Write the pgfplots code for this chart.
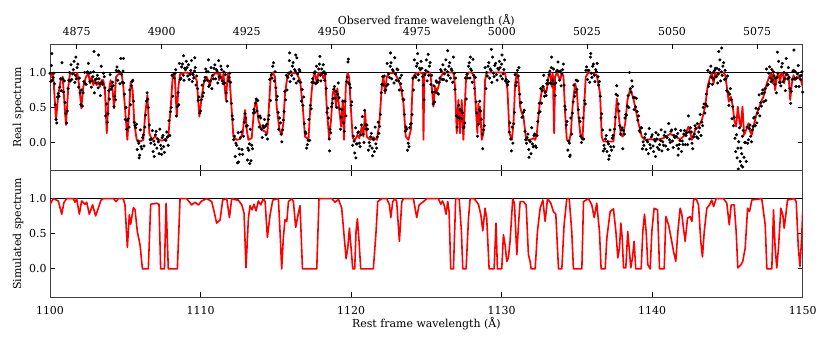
\documentclass[border=0pt]{standalone}
\usepackage{fontspec}
\setmainfont{DejaVu Serif}
\usepackage{pgfplots}
\usepackage{pgfplotstable}
\pgfplotsset{compat=1.18}

\pgfplotstableread{
x y
1100.00 0.915
1100.11 0.986
1100.22 0.938
1100.40 0.322
1100.55 0.678
1100.71 0.891
1100.84 0.938
1101.06 0.251
1101.22 0.796
1101.33 0.986
1101.55 1.0
1101.73 0.938
1101.82 0.995
1101.95 0.796
1102.08 0.488
1102.21 0.796
1102.39 0.938
1102.55 0.986
1102.66 0.844
1102.77 0.938
1102.88 0.82
1102.99 0.891
1103.10 0.82
1103.21 0.867
1103.32 0.796
1103.43 0.891
1103.54 0.891
1103.65 0.749
1103.77 0.133
1103.92 0.749
1104.03 0.891
1104.16 0.749
1104.25 0.488
1104.39 0.938
1104.54 0.976
1104.76 0.986
1104.87 0.796
1105.01 0.417
1105.14 0.038
1105.27 0.512
1105.36 0.867
1105.49 0.749
1105.60 0.275
1105.76 0.038
1105.98 0.014
1106.20 0.038
1106.33 0.417
1106.47 0.678
1106.60 0.133
1106.76 0.038
1106.98 0.085
1107.20 0.038
1107.42 0.028
1107.64 0.038
1107.86 0.085
1108.02 0.512
1108.15 0.938
1108.28 0.986
1108.42 0.37
1108.53 0.796
1108.64 0.976
1108.97 1.0
1109.41 0.986
1109.75 0.891
1109.92 0.37
1110.08 0.654
1110.23 0.867
1110.41 0.938
1110.63 0.82
1110.74 0.938
1110.96 0.986
1111.18 0.986
1111.23 0.891
1111.30 0.986
1111.45 0.867
1111.52 0.986
1111.69 0.607
1111.81 0.995
1111.92 0.938
1112.07 0.464
1112.18 0.085
1112.40 0.038
1112.62 0.047
1112.80 0.133
1112.96 0.464
1113.07 0.18
1113.18 0.038
1113.40 0.062
1113.55 0.464
1113.69 0.607
1113.84 0.322
1114.06 0.18
1114.29 0.156
1114.44 0.133
1114.57 0.607
1114.66 0.938
1114.80 1.0
1114.95 0.938
1115.06 0.512
1115.24 0.18
1115.39 0.109
1115.50 0.275
1115.61 0.701
1115.77 0.938
1115.95 1.0
1116.39 0.986
1116.61 0.891
1116.79 0.512
1116.94 0.085
1117.17 0.038
1117.28 0.464
1117.39 0.749
1117.50 0.938
1117.61 0.986
1117.72 0.844
1117.83 0.995
1118.05 0.986
1118.16 0.915
1118.27 0.986
1118.38 0.512
1118.54 0.062
1118.67 0.322
1118.78 0.701
1118.89 0.773
1119.00 0.512
1119.09 0.773
1119.22 0.464
1119.34 0.227
1119.45 0.607
1119.53 0.038
1119.65 0.796
1119.76 0.995
1119.87 0.938
1119.98 0.512
1120.11 0.062
1120.27 0.038
1120.42 0.109
1120.55 0.062
1120.71 0.227
1120.82 0.085
1120.93 0.441
1121.04 0.085
1121.26 0.038
1121.48 0.076
1121.71 0.038
1121.88 0.275
1122.04 0.796
1122.15 0.938
1122.26 0.701
1122.37 0.938
1122.59 0.995
1122.92 0.986
1123.15 0.891
1123.30 0.796
1123.48 0.559
1123.63 0.085
1123.81 0.038
1123.97 0.18
1124.10 0.891
1124.19 0.962
1124.36 0.995
1124.58 1.0
1124.76 0.986
1124.81 0.038
1124.87 0.986
1125.03 1.0
1125.25 1.0
1125.36 0.796
1125.47 0.512
1125.58 0.796
1125.69 0.725
1125.80 0.796
1125.96 0.938
1126.14 1.0
1126.80 1.0
1126.91 0.796
1127.02 0.133
1127.13 0.607
1127.24 0.133
1127.35 0.607
1127.46 0.038
1127.64 0.938
1127.80 1.0
1128.02 1.0
1128.17 0.938
1128.31 0.417
1128.39 0.133
1128.46 0.559
1128.53 0.275
1128.57 0.512
1128.68 0.038
1128.79 0.133
1128.90 0.891
1129.01 1.0
1130.23 1.0
1130.39 0.749
1130.52 0.133
1130.68 0.038
1130.79 0.275
1130.90 0.844
1131.01 0.986
1131.12 0.891
1131.23 0.512
1131.34 0.417
1131.45 0.37
1131.63 0.038
1131.89 0.038
1132.12 0.062
1132.23 0.038
1132.34 0.133
1132.51 0.512
1132.67 0.749
1132.78 0.796
1132.89 0.701
1133.00 0.749
1133.11 0.938
1133.22 1.0
1133.33 0.796
1133.40 0.986
1133.49 0.133
1133.55 0.938
1133.67 1.0
1133.89 0.891
1134.00 1.0
1134.11 0.938
1134.22 0.417
1134.33 0.038
1134.49 0.014
1134.60 0.133
1134.71 0.512
1134.88 0.844
1134.99 0.749
1135.11 0.37
1135.22 0.133
1135.37 0.038
1135.48 0.512
1135.59 0.938
1135.77 1.0
1136.10 0.986
1136.32 0.962
1136.54 0.701
1136.65 0.085
1136.77 0.014
1137.21 0.014
1137.43 0.014
1137.54 0.275
1137.65 0.63
1137.76 0.417
1137.92 0.109
1138.05 0.085
1138.21 0.275
1138.36 0.607
1138.54 0.758
1138.72 0.654
1138.87 0.512
1139.09 0.275
1139.31 0.085
1139.53 0.038
1139.87 0.047
1140.31 0.038
1140.75 0.062
1141.20 0.123
1141.53 0.085
1141.86 0.047
1142.19 0.109
1142.41 0.227
1142.52 0.156
1142.64 0.038
1142.86 0.18
1143.08 0.227
1143.30 0.322
1143.52 0.512
1143.68 0.796
1143.85 0.938
1143.96 0.986
1144.08 0.844
1144.19 1.0
1144.30 0.938
1144.41 1.0
1144.74 1.0
1144.85 0.962
1144.96 0.796
1145.09 0.583
1145.23 0.654
1145.36 0.512
1145.45 0.322
1145.58 0.227
1145.69 0.512
1145.80 0.299
1145.89 0.227
1146.00 0.512
1146.11 0.109
1146.29 0.204
1146.40 0.275
1146.51 0.156
1146.62 0.109
1146.78 0.275
1146.95 0.417
1147.13 0.512
1147.28 0.607
1147.39 0.654
1147.51 0.749
1147.62 0.844
1147.77 0.938
1147.91 0.986
1148.00 0.844
1148.06 0.986
1148.17 0.749
1148.28 0.938
1148.39 0.995
1148.50 0.844
1148.57 0.986
1148.68 0.986
1148.77 0.844
1148.88 0.986
1149.06 0.962
1149.17 0.607
1149.28 0.844
1149.39 0.962
1149.50 0.891
1149.61 0.938
1149.71 0.915
1149.82 0.938
1150.00 0.796
}\realmodel

\pgfplotstableread{
x y
1100.00 0.92
1100.22 1.0
1100.55 0.967
1100.78 0.778
1100.93 0.948
1101.11 1.0
1101.55 1.0
1101.66 0.948
1101.77 1.0
1101.95 0.778
1102.10 0.967
1102.33 0.92
1102.44 0.948
1102.61 0.778
1102.83 0.91
1103.03 0.755
1103.21 0.863
1103.39 0.98
1103.54 1.0
1104.21 1.0
1104.39 0.958
1104.54 1.0
1104.87 1.0
1104.98 0.91
1105.14 0.307
1105.27 0.769
1105.36 0.637
1105.54 0.873
1105.65 0.84
1105.80 0.533
1105.98 0.344
1106.14 0
1106.53 0
1106.69 0.92
1107.09 0.934
1107.24 0.92
1107.35 0
1107.60 0
1107.71 0.934
1107.86 0
1108.46 0
1108.64 1.0
1109.08 1.0
1109.41 0.91
1109.63 0.948
1109.86 0.91
1110.08 0.967
1110.41 1.0
1110.74 0.958
1110.90 0.816
1111.07 0.651
1111.30 0.698
1111.47 0.98
1111.74 1.0
1111.92 0.731
1112.07 1.0
1112.40 0.98
1112.51 0.98
1112.74 0.91
1112.89 0.792
1113.02 0.014
1113.18 0.722
1113.29 0.90
1113.42 0.84
1113.55 0.92
1113.69 0.825
1113.84 0.967
1114.00 0.91
1114.17 1.0
1114.29 0.958
1114.44 0.448
1114.62 0.769
1114.80 0.98
1115.17 1.0
1115.28 0.533
1115.39 0
1115.50 0.439
1115.61 0.698
1115.73 0.675
1115.84 0.958
1116.06 1.0
1116.17 0.958
1116.32 0.59
1116.50 0.792
1116.61 0.90
1116.77 0
1117.72 0
1117.87 1.0
1118.72 1.0
1118.94 0.948
1119.16 0.99
1119.38 0.863
1119.53 0.486
1119.67 0.146
1119.78 0.297
1119.89 0.58
1120.00 0.297
1120.11 0
1120.24 0
1120.33 0.533
1120.42 0.712
1120.53 0.392
1120.64 0
1121.48 0
1121.66 0.533
1121.77 0.958
1122.04 1.0
1122.37 1.0
1122.55 0.91
1122.64 0.731
1122.77 0.958
1122.92 1.0
1123.03 0.958
1123.21 0.392
1123.37 0.958
1123.48 1.0
1124.14 1.0
1124.36 0.731
1124.52 0.91
1124.81 0.958
1125.03 1.0
1125.80 1.0
1125.96 0.92
1126.07 0.967
1126.18 0.91
1126.31 0.778
1126.42 0.958
1126.51 0.816
1126.62 0
1126.80 0
1126.95 1.0
1127.18 1.0
1127.33 0.533
1127.42 0
1127.64 0
1127.80 0.722
1127.91 1.0
1128.17 1.0
1128.46 0.92
1128.62 0.769
1128.75 0.542
1128.90 0.863
1129.01 0.722
1129.17 0
1129.50 0
1129.63 0.651
1129.72 0
1130.01 0
1130.12 0.486
1130.23 0.344
1130.34 0.108
1130.45 0.156
1130.56 0.392
1130.74 1.0
1130.85 0.934
1131.01 0.203
1131.12 0.627
1131.23 0.958
1131.45 0.958
1131.63 0.91
1131.78 0.203
1131.89 0.108
1131.96 0
1132.23 0
1132.38 0.533
1132.56 0.863
1132.74 0.98
1132.89 0.675
1133.05 1.0
1133.27 0.934
1133.44 0.816
1133.60 0.778
1133.71 0.297
1133.78 0
1134.00 0
1134.15 0.627
1134.33 1.0
1134.49 1.0
1134.66 0.533
1134.77 0
1135.33 0
1135.44 0.958
1135.77 1.0
1135.99 0.91
1136.15 0.731
1136.32 0.934
1136.50 0.533
1136.61 0
1136.88 0
1136.99 0.439
1137.21 0.816
1137.43 0.854
1137.59 0.533
1137.72 0.156
1137.83 0.297
1137.92 0.651
1138.01 0.439
1138.10 0.014
1138.25 0.014
1138.38 0.533
1138.49 0.25
1138.58 0.014
1138.69 0.156
1138.80 0.392
1138.91 0
1139.27 0
1139.38 0.533
1139.49 0.778
1139.60 0.533
1139.71 0.061
1139.87 0
1139.98 0.533
1140.13 0.863
1140.36 0.84
1140.49 0
1140.80 0
1140.91 0.745
1141.09 0.627
1141.24 0.462
1141.42 0.25
1141.57 0.108
1141.71 0.533
1141.86 0.863
1141.97 0.778
1142.08 0.58
1142.19 0.392
1142.35 0.722
1142.52 0.745
1142.64 0.675
1142.75 0.98
1142.92 1.0
1143.08 0.91
1143.23 0.392
1143.34 0.17
1143.46 0.533
1143.63 0.863
1143.81 0.91
1143.96 0.98
1144.08 0.887
1144.25 1.0
1144.74 1.0
1144.96 0.934
1145.12 0.627
1145.25 0.91
1145.45 0.91
1145.58 0.533
1145.69 0.014
1145.91 0.061
1146.02 0.108
1146.18 0.297
1146.34 0.863
1146.47 0.816
1146.62 0.98
1147.28 1.0
1147.51 0.627
1147.62 0
1147.95 0
1148.06 0.84
1148.17 0.297
1148.28 0.014
1148.39 0.297
1148.55 0.863
1148.68 0.769
1148.77 0.58
1148.88 0.769
1148.99 0.98
1149.44 1.0
1149.57 0.958
1149.71 0.297
1149.82 0.038
1149.93 0.439
1150.00 0.816
}\simmodel

\pgfplotstableread{
x y
1100.00 0.99
1100.05 0.87
1100.10 1.10
1100.15 0.89
1100.20 0.93
1100.25 0.99
1100.30 0.84
1100.35 0.54
1100.40 0.33
1100.45 0.28
1100.50 0.65
1100.55 0.70
1100.60 0.66
1100.65 0.79
1100.70 0.91
1100.75 0.74
1100.80 1.14
1100.85 0.91
1100.90 0.72
1100.95 0.88
1101.00 0.57
1101.05 0.41
1101.10 0.28
1101.15 0.45
1101.20 0.77
1101.25 0.89
1101.30 1.00
1101.35 0.88
1101.40 1.11
1101.45 0.90
1101.50 0.98
1101.55 1.04
1101.60 1.16
1101.65 0.86
1101.70 0.96
1101.75 0.91
1101.80 1.07
1101.85 1.12
1101.90 0.79
1101.95 0.92
1102.00 0.71
1102.05 0.54
1102.10 0.75
1102.15 0.52
1102.20 0.71
1102.25 0.87
1102.30 1.00
1102.35 0.84
1102.40 0.83
1102.45 1.00
1102.50 1.01
1102.55 1.13
1102.60 0.99
1102.65 0.87
1102.70 1.00
1102.75 0.79
1102.80 0.88
1102.85 0.94
1102.90 1.01
1102.95 0.71
1103.00 0.90
1103.05 0.85
1103.10 0.91
1103.15 0.96
1103.20 0.78
1103.25 0.91
1103.30 0.84
1103.35 0.67
1103.40 1.09
1103.45 0.86
1103.50 0.83
1103.55 0.99
1103.60 0.94
1103.65 0.78
1103.70 0.38
1103.75 0.55
1103.80 0.29
1103.85 0.41
1103.90 0.74
1103.95 0.62
1104.00 0.97
1104.05 0.76
1104.10 0.80
1104.15 0.86
1104.20 0.81
1104.25 0.51
1104.30 0.66
1104.35 0.61
1104.40 1.03
1104.45 1.08
1104.50 0.89
1104.55 1.02
1104.60 1.01
1104.65 0.84
1104.70 1.20
1104.75 0.97
1104.80 0.86
1104.85 1.02
1104.90 0.85
1104.95 0.69
1105.00 0.33
1105.05 0.50
1105.10 0.19
1105.15 0.31
1105.20 0.34
1105.25 0.22
1105.30 0.75
1105.35 0.54
1105.40 0.81
1105.45 0.87
1105.50 0.89
1105.55 0.59
1105.60 0.29
1105.65 0.24
1105.70 0.21
1105.75 0.26
1105.80 -0.10
1105.85 0.02
1105.90 -0.01
1105.95 -0.18
1106.00 0.18
1106.05 -0.06
1106.10 -0.09
1106.15 0.07
1106.20 0.11
1106.25 -0.05
1106.30 0.22
1106.35 0.39
1106.40 0.59
1106.45 0.71
1106.50 0.62
1106.55 0.50
1106.60 0.25
1106.65 0.04
1106.70 -0.01
1106.75 0.05
1106.80 0.17
1106.85 -0.13
1106.90 0.02
1106.95 -0.03
1107.00 0.11
1107.05 0.16
1107.10 -0.08
1107.15 0.05
1107.20 0.01
1107.25 -0.16
1107.30 0.19
1107.35 -0.04
1107.40 -0.09
1107.45 0.07
1107.50 0.10
1107.55 -0.06
1107.60 -0.14
1107.65 0.04
1107.70 0.03
1107.75 0.15
1107.80 0.08
1107.85 -0.04
1107.90 0.31
1107.95 0.10
1108.00 0.44
1108.05 0.50
1108.10 0.96
1108.15 0.66
1108.20 0.97
1108.25 0.92
1108.30 0.99
1108.35 1.04
1108.40 0.38
1108.45 0.51
1108.50 0.71
1108.55 0.54
1108.60 1.13
1108.65 0.90
1108.70 0.92
1108.75 1.08
1108.80 1.12
1108.85 0.96
1108.90 0.89
1108.95 1.06
1109.00 1.04
1109.05 1.16
1109.10 1.07
1109.15 0.95
1109.20 1.11
1109.25 0.90
1109.30 0.97
1109.35 1.03
1109.40 1.17
1109.45 0.87
1109.50 0.97
1109.55 0.92
1109.60 1.02
1109.65 1.07
1109.70 0.82
1109.75 0.95
1109.80 0.77
1109.85 0.60
1109.90 0.65
1109.95 0.42
1110.00 0.45
1110.05 0.61
1110.10 0.82
1110.15 0.66
1110.20 0.71
1110.25 0.88
1110.30 0.93
1110.35 1.05
1110.40 1.01
1110.45 0.89
1110.50 1.01
1110.55 0.80
1110.60 0.82
1110.65 0.88
1110.70 1.07
1110.75 0.77
1110.80 0.96
1110.85 0.91
1110.90 1.06
1110.95 1.11
1111.00 0.91
1111.05 1.04
1111.10 1.02
1111.15 0.85
1111.20 1.17
1111.25 0.94
1111.30 0.93
1111.35 1.09
1111.40 1.04
1111.45 0.88
1111.50 0.84
1111.55 1.01
1111.60 0.85
1111.65 0.97
1111.70 0.71
1111.75 0.59
1111.80 1.09
1111.85 0.88
1111.90 0.93
1111.95 0.99
1112.00 0.86
1112.05 0.56
1112.10 0.38
1112.15 0.33
1112.20 0.04
1112.25 0.09
1112.30 -0.20
1112.35 -0.01
1112.40 -0.04
1112.45 -0.29
1112.50 0.14
1112.55 -0.09
1112.60 -0.17
1112.65 0.07
1112.70 0.15
1112.75 -0.10
1112.80 -0.17
1112.85 0.09
1112.90 0.29
1112.95 0.41
1113.00 0.35
1113.05 0.23
1113.10 0.24
1113.15 -0.08
1113.20 -0.11
1113.25 -0.02
1113.30 0.19
1113.35 -0.26
1113.40 -0.04
1113.45 -0.09
1113.50 0.42
1113.55 0.47
1113.60 0.43
1113.65 0.56
1113.70 0.62
1113.75 0.45
1113.80 0.60
1113.85 0.37
1113.90 0.22
1113.95 0.38
1114.00 0.35
1114.05 0.19
1114.10 0.07
1114.15 0.24
1114.20 0.21
1114.25 0.33
1114.30 0.23
1114.35 0.11
1114.40 0.26
1114.45 0.05
1114.50 0.33
1114.55 0.39
1114.60 0.90
1114.65 0.60
1114.70 0.97
1114.75 0.92
1114.80 1.09
1114.85 1.14
1114.90 0.88
1114.95 1.01
1115.00 0.78
1115.05 0.61
1115.10 0.66
1115.15 0.43
1115.20 0.19
1115.25 0.35
1115.30 0.28
1115.35 0.12
1115.40 0.01
1115.45 0.18
1115.50 0.32
1115.55 0.44
1115.60 0.73
1115.65 0.61
1115.70 0.96
1115.75 0.75
1115.80 0.93
1115.85 0.99
1115.90 1.17
1115.95 0.87
1116.00 1.01
1116.05 0.96
1116.10 1.09
1116.15 1.14
1116.20 0.91
1116.25 1.04
1116.30 1.02
1116.35 0.85
1116.40 1.21
1116.45 0.98
1116.50 0.88
1116.55 1.04
1116.60 1.02
1116.65 0.86
1116.70 0.59
1116.75 0.76
1116.80 0.53
1116.85 0.65
1116.90 0.27
1116.95 0.15
1117.00 0.13
1117.05 -0.08
1117.10 -0.03
1117.15 0.03
1117.20 0.33
1117.25 0.03
1117.30 0.53
1117.35 0.48
1117.40 0.86
1117.45 0.91
1117.50 0.86
1117.55 0.99
1117.60 1.01
1117.65 0.84
1117.70 1.09
1117.75 0.86
1117.80 0.89
1117.85 1.05
1117.90 1.12
1117.95 0.96
1118.00 0.88
1118.05 1.05
1118.10 0.99
1118.15 1.11
1118.20 1.01
1118.25 0.89
1118.30 0.98
1118.35 0.77
1118.40 0.43
1118.45 0.49
1118.50 0.35
1118.55 0.05
1118.60 0.19
1118.65 0.14
1118.70 0.51
1118.75 0.56
1118.80 0.63
1118.85 0.76
1118.90 0.80
1118.95 0.63
1119.00 0.73
1119.05 0.50
1119.10 0.69
1119.15 0.85
1119.20 0.64
1119.25 0.48
1119.30 0.19
1119.35 0.36
1119.40 0.47
1119.45 0.59
1119.50 0.28
1119.55 0.16
1119.60 0.59
1119.65 0.38
1119.70 0.87
1119.75 0.93
1119.80 1.15
1119.85 0.85
1119.90 0.83
1119.95 0.78
1120.00 0.53
1120.05 0.58
1120.10 -0.04
1120.15 0.09
1120.20 0.02
1120.25 -0.15
1120.30 0.21
1120.35 -0.02
1120.40 -0.02
1120.45 0.14
1120.50 0.15
1120.55 -0.01
1120.60 -0.06
1120.65 0.11
1120.70 0.25
1120.75 0.37
1120.80 0.12
1120.85 0.00
1120.90 0.46
1120.95 0.25
1121.00 0.19
1121.05 0.25
1121.10 0.19
1121.15 -0.11
1121.20 0.00
1121.25 -0.05
1121.30 0.08
1121.35 0.13
1121.40 -0.08
1121.45 0.05
1121.50 0.04
1121.55 -0.13
1121.60 0.22
1121.65 -0.02
1121.70 -0.08
1121.75 0.08
1121.80 0.29
1121.85 0.13
1121.90 0.23
1121.95 0.40
1122.00 0.71
1122.05 0.83
1122.10 0.94
1122.15 0.82
1122.20 0.95
1122.25 0.74
1122.30 0.75
1122.35 0.81
1122.40 1.13
1122.45 0.83
1122.50 0.98
1122.55 0.93
1122.60 1.09
1122.65 1.14
1122.70 0.91
1122.75 1.04
1122.80 1.02
1122.85 0.85
1122.90 1.21
1122.95 0.98
1123.00 0.89
1123.05 1.05
1123.10 1.04
1123.15 0.88
1123.20 0.75
1123.25 0.92
1123.30 0.84
1123.35 0.96
1123.40 0.74
1123.45 0.62
1123.50 0.61
1123.55 0.40
1123.60 0.16
1123.65 0.22
1123.70 0.19
1123.75 -0.11
1123.80 -0.01
1123.85 -0.06
1123.90 0.21
1123.95 0.26
1124.00 0.27
1124.05 0.40
1124.10 0.92
1124.15 0.75
1124.20 1.18
1124.25 0.95
1124.30 0.93
1124.35 1.09
1124.40 1.13
1124.45 0.97
1124.50 0.89
1124.55 1.06
1124.60 1.04
1124.65 1.16
1124.70 1.06
1124.75 0.94
1124.80 0.82
1124.85 0.61
1124.90 0.97
1124.95 1.03
1125.00 1.18
1125.05 0.88
1125.10 1.01
1125.15 0.96
1125.20 1.09
1125.25 1.14
1125.30 0.83
1125.35 0.96
1125.40 0.72
1125.45 0.55
1125.50 0.81
1125.55 0.58
1125.60 0.72
1125.65 0.88
1125.70 0.86
1125.75 0.70
1125.80 0.69
1125.85 0.86
1125.90 0.92
1125.95 1.04
1126.00 1.02
1126.05 0.90
1126.10 1.11
1126.15 0.90
1126.20 0.98
1126.25 1.04
1126.30 1.18
1126.35 0.88
1126.40 1.01
1126.45 0.96
1126.50 1.09
1126.55 1.14
1126.60 0.92
1126.65 1.05
1126.70 1.03
1126.75 0.86
1126.80 1.22
1126.85 0.99
1126.90 0.76
1126.95 0.92
1127.00 0.38
1127.05 0.22
1127.10 0.36
1127.15 0.53
1127.20 0.35
1127.25 0.47
1127.30 0.46
1127.35 0.34
1127.40 0.42
1127.45 0.21
1127.50 0.22
1127.55 0.28
1127.60 0.92
1127.65 0.62
1127.70 0.97
1127.75 0.92
1127.80 1.09
1127.85 1.14
1127.90 0.92
1127.95 1.05
1128.00 1.03
1128.05 0.86
1128.10 1.19
1128.15 0.96
1128.20 0.77
1128.25 0.93
1128.30 0.58
1128.35 0.42
1128.40 0.09
1128.45 0.26
1128.50 0.47
1128.55 0.59
1128.60 0.45
1128.65 0.33
1128.70 0.12
1128.75 -0.09
1128.80 0.18
1128.85 0.24
1128.90 1.07
1128.95 0.77
1129.00 1.00
1129.05 0.95
1129.10 1.09
1129.15 1.14
1129.20 0.92
1129.25 1.05
1129.30 1.03
1129.35 0.86
1129.40 1.22
1129.45 0.99
1129.50 0.94
1129.55 1.10
1129.60 1.13
1129.65 0.97
1129.70 0.89
1129.75 1.06
1129.80 1.04
1129.85 1.16
1129.90 1.07
1129.95 0.95
1130.00 1.12
1130.05 0.91
1130.10 0.98
1130.15 1.04
1130.20 1.18
1130.25 0.88
1130.30 0.90
1130.35 0.85
1130.40 0.82
1130.45 0.87
1130.50 0.15
1130.55 0.28
1130.60 0.05
1130.65 -0.12
1130.70 0.22
1130.75 -0.01
1130.80 0.27
1130.85 0.43
1130.90 0.97
1130.95 0.81
1131.00 0.86
1131.05 1.03
1131.10 0.95
1131.15 1.07
1131.20 0.69
1131.25 0.57
1131.30 0.57
1131.35 0.36
1131.40 0.37
1131.45 0.43
1131.50 0.46
1131.55 0.16
1131.60 0.04
1131.65 -0.01
1131.70 0.07
1131.75 0.12
1131.80 -0.10
1131.85 0.03
1131.90 0.01
1131.95 -0.16
1132.00 0.21
1132.05 -0.02
1132.10 -0.06
1132.15 0.10
1132.20 0.12
1132.25 -0.05
1132.30 -0.07
1132.35 0.10
1132.40 0.30
1132.45 0.42
1132.50 0.56
1132.55 0.44
1132.60 0.77
1132.65 0.56
1132.70 0.74
1132.75 0.80
1132.80 0.96
1132.85 0.66
1132.90 0.72
1132.95 0.67
1133.00 0.84
1133.05 0.89
1133.10 0.84
1133.15 0.97
1133.20 1.02
1133.25 0.85
1133.30 1.07
1133.35 0.84
1133.40 0.89
1133.45 1.05
1133.50 0.83
1133.55 0.67
1133.60 0.85
1133.65 1.02
1133.70 1.03
1133.75 1.15
1133.80 1.01
1133.85 0.89
1133.90 1.02
1133.95 0.81
1134.00 0.98
1134.05 1.04
1134.10 1.12
1134.15 0.82
1134.20 0.52
1134.25 0.47
1134.30 0.25
1134.35 0.30
1134.40 -0.11
1134.45 0.02
1134.50 -0.01
1134.55 -0.18
1134.60 0.35
1134.65 0.12
1134.70 0.42
1134.75 0.58
1134.80 0.82
1134.85 0.66
1134.90 0.72
1134.95 0.89
1135.00 0.76
1135.05 0.88
1135.10 0.47
1135.15 0.35
1135.20 0.30
1135.25 0.09
1135.30 0.00
1135.35 0.06
1135.40 0.35
1135.45 0.05
1135.50 0.60
1135.55 0.55
1135.60 1.03
1135.65 1.08
1135.70 0.90
1135.75 1.03
1135.80 1.03
1135.85 0.86
1135.90 1.22
1135.95 0.99
1136.00 0.93
1136.05 1.09
1136.10 1.12
1136.15 0.96
1136.20 0.87
1136.25 1.04
1136.30 1.01
1136.35 1.13
1136.40 0.94
1136.45 0.82
1136.50 0.87
1136.55 0.66
1136.60 0.35
1136.65 0.41
1136.70 0.18
1136.75 -0.12
1136.80 -0.04
1136.85 -0.09
1136.90 0.05
1136.95 0.10
1137.00 -0.13
1137.05 0.01
1137.10 -0.02
1137.15 -0.19
1137.20 0.18
1137.25 -0.06
1137.30 -0.11
1137.35 0.06
1137.40 0.10
1137.45 -0.06
1137.50 0.19
1137.55 0.36
1137.60 0.69
1137.65 0.81
1137.70 0.67
1137.75 0.55
1137.80 0.45
1137.85 0.24
1137.90 0.12
1137.95 0.18
1138.00 0.21
1138.05 -0.09
1138.10 0.17
1138.15 0.12
1138.20 0.35
1138.25 0.40
1138.30 0.39
1138.35 0.52
1138.40 0.67
1138.45 0.50
1138.50 1.00
1138.55 0.77
1138.60 0.72
1138.65 0.88
1138.70 0.80
1138.75 0.64
1138.80 0.47
1138.85 0.64
1138.90 0.51
1138.95 0.63
1139.00 0.44
1139.05 0.32
1139.10 0.38
1139.15 0.17
1139.20 0.15
1139.25 0.21
1139.30 0.21
1139.35 -0.09
1139.40 0.01
1139.45 -0.04
1139.50 0.07
1139.55 0.12
1139.60 -0.10
1139.65 0.03
1139.70 0.01
1139.75 -0.16
1139.80 0.20
1139.85 -0.03
1139.90 -0.08
1139.95 0.08
1140.00 0.11
1140.05 -0.05
1140.10 -0.13
1140.15 0.04
1140.20 0.02
1140.25 0.14
1140.30 0.05
1140.35 -0.07
1140.40 0.11
1140.45 -0.10
1140.50 -0.03
1140.55 0.03
1140.60 0.18
1140.65 -0.12
1140.70 0.01
1140.75 -0.04
1140.80 0.10
1140.85 0.15
1140.90 -0.05
1140.95 0.08
1141.00 0.07
1141.05 -0.10
1141.10 0.27
1141.15 0.04
1141.20 0.00
1141.25 0.16
1141.30 0.18
1141.35 0.02
1141.40 -0.07
1141.45 0.10
1141.50 0.07
1141.55 0.19
1141.60 0.09
1141.65 -0.04
1141.70 0.13
1141.75 -0.09
1141.80 -0.03
1141.85 0.03
1141.90 0.17
1141.95 -0.13
1142.00 0.02
1142.05 -0.03
1142.10 0.12
1142.15 0.17
1142.20 -0.03
1142.25 0.10
1142.30 0.14
1142.35 -0.03
1142.40 0.38
1142.45 0.15
1142.50 0.05
1142.55 0.21
1142.60 0.15
1142.65 -0.01
1142.70 -0.09
1142.75 0.08
1142.80 0.12
1142.85 0.24
1142.90 0.20
1142.95 0.08
1143.00 0.27
1143.05 0.06
1143.10 0.15
1143.15 0.21
1143.20 0.40
1143.25 0.10
1143.30 0.29
1143.35 0.24
1143.40 0.50
1143.45 0.55
1143.50 0.42
1143.55 0.55
1143.60 0.69
1143.65 0.52
1143.70 1.03
1143.75 0.80
1143.80 0.84
1143.85 1.00
1143.90 1.09
1143.95 0.93
1144.00 0.83
1144.05 1.00
1144.10 0.91
1144.15 1.03
1144.20 1.06
1144.25 0.94
1144.30 1.06
1144.35 0.85
1144.40 0.98
1144.45 1.04
1144.50 1.18
1144.55 0.88
1144.60 1.01
1144.65 0.96
1144.70 1.09
1144.75 1.14
1144.80 0.90
1144.85 1.03
1144.90 0.91
1144.95 0.74
1145.00 0.95
1145.05 0.72
1145.10 0.53
1145.15 0.69
1145.20 0.77
1145.25 0.61
1145.30 0.34
1145.35 0.51
1145.40 0.24
1145.45 0.36
1145.50 0.06
1145.55 -0.13
1145.60 0.11
1145.65 -0.22
1145.70 -0.08
1145.75 0.01
1145.80 0.21
1145.85 -0.27
1145.90 -0.08
1145.95 -0.16
1146.00 0.09
1146.05 0.17
1146.10 -0.21
1146.15 0.00
1146.20 0.00
1146.25 -0.27
1146.30 0.22
1146.35 -0.01
1146.40 0.04
1146.45 0.20
1146.50 0.25
1146.55 0.09
1146.60 0.01
1146.65 0.18
1146.70 0.23
1146.75 0.35
1146.80 0.36
1146.85 0.24
1146.90 0.49
1146.95 0.28
1147.00 0.42
1147.05 0.48
1147.10 0.68
1147.15 0.38
1147.20 0.57
1147.25 0.52
1147.30 0.70
1147.35 0.75
1147.40 0.58
1147.45 0.71
1147.50 0.77
1147.55 0.60
1147.60 1.05
1147.65 0.82
1147.70 0.83
1147.75 0.99
1147.80 1.08
1147.85 0.92
1147.90 0.87
1147.95 1.04
1148.00 0.89
1148.05 1.01
1148.10 0.95
1148.15 0.83
1148.20 0.92
1148.25 0.71
1148.30 0.93
1148.35 0.99
1148.40 1.16
1148.45 0.86
1148.50 0.86
1148.55 0.81
1148.60 1.08
1148.65 1.13
1148.70 0.87
1148.75 1.00
1148.80 0.91
1148.85 0.74
1148.90 1.20
1148.95 0.97
1149.00 0.91
1149.05 1.07
1149.10 0.93
1149.15 0.77
1149.20 0.56
1149.25 0.73
1149.30 0.90
1149.35 1.02
1149.40 1.03
1149.45 0.91
1149.50 1.01
1149.55 0.80
1149.60 0.92
1149.65 0.98
1149.70 1.10
1149.75 0.80
1149.80 0.95
1149.85 0.90
1149.90 0.96
1149.95 1.01
1150.00 0.72
1100.12 1.27
1101.72 1.22
1102.93 1.30
1103.22 1.25
1104.88 1.20
1108.87 1.24
1109.62 1.21
1110.52 1.18
1115.92 1.28
1116.33 1.25
1117.93 1.23
1119.82 1.19
1122.62 1.28
1124.42 1.27
1125.12 1.26
1126.42 1.31
1127.92 1.22
1129.32 1.33
1130.02 1.25
1133.32 1.22
1135.92 1.27
1144.42 1.30
1144.62 1.35
1148.32 1.29
1149.42 1.32
1106.92 -0.20
1107.42 -0.17
1120.32 -0.22
1121.42 -0.19
1131.82 -0.21
1137.12 -0.24
1140.22 -0.20
1141.72 -0.18
1146.02 -0.35
1145.92 -0.33
1112.52 -0.28
1113.12 -0.25
1113.27 -0.30
1105.92 -0.22
1145.72 -0.38
1118.57 -0.12
1134.52 -0.20
}\realdata

\pgfplotsset{
  panel/.style={
    scale only axis, width=752.7bp,
    xmin=1100, xmax=1150, ymin=-0.4, ymax=1.4,
    ytick={0,0.5,1}, yticklabels={0.0,0.5,1.0},
    xtick={1100,1110,1120,1130,1140,1150},
    tick align=inside, major tick length=5bp,
    axis line style={black!75, line width=1pt},
    tick style={black, line width=0.8pt},
    ytick pos=both, yticklabel pos=left,
    tick label style={font=\fontsize{11}{13}\selectfont},
    label style={font=\fontsize{11}{13}\selectfont},
    ylabel style={at={(axis description cs:-0.0425,0.5)}, anchor=center},
  }
}

\begin{document}
\begin{tikzpicture}
\path[use as bounding box] (0bp,0bp) rectangle (830bp,346bp);

\begin{axis}[panel, at={(50bp,175.5bp)}, anchor=south west, height=126bp,
  xtick pos=left, xticklabels={}, ylabel={Real spectrum}]
\addplot[only marks, mark=*, mark size=1.35pt, black] table[x=x,y=y] {\realdata};
\addplot[black, line width=1.3pt] coordinates {(1100,1) (1150,1)};
\addplot[red, line width=1.8pt, line join=round] table[x=x,y=y] {\realmodel};
\end{axis}

\begin{axis}[at={(50bp,175.5bp)}, anchor=south west, scale only axis,
  width=752.7bp, height=126bp,
  xmin=4867.17, xmax=5088.41, ymin=0, ymax=1,
  hide y axis, axis line style={draw=none},
  xtick={4875,4900,4925,4950,4975,5000,5025,5050,5075},
  xticklabels={4875,4900,4925,4950,4975,5000,5025,5050,5075},
  xtick pos=right, xticklabel pos=right,
  tick align=inside, major tick length=5bp,
  tick style={black, line width=0.8pt},
  tick label style={font=\fontsize{11}{13}\selectfont},
  xticklabel style={anchor=center, yshift=12.5bp},
  label style={font=\fontsize{11}{13}\selectfont},
  xlabel style={at={(axis description cs:0.5,1.19)}, anchor=center},
  xlabel={Observed frame wavelength (Å)}]
\addplot[draw=none] coordinates {(4900,0.5)};
\end{axis}

\begin{axis}[panel, at={(50bp,49bp)}, anchor=south west, height=126.5bp,
  xtick pos=both, xticklabel pos=left,
  xticklabels={1100,1110,1120,1130,1140,1150},
  xticklabel style={anchor=center, yshift=-14bp},
  xlabel style={at={(axis description cs:0.5,-0.213)}, anchor=center},
  xlabel={Rest frame wavelength (Å)}, ylabel={Simulated spectrum}]
\addplot[black, line width=1.3pt] coordinates {(1100,1) (1150,1)};
\addplot[red, line width=1.6pt, line join=round] table[x=x,y=y] {\simmodel};
\end{axis}
\end{tikzpicture}
\end{document}
